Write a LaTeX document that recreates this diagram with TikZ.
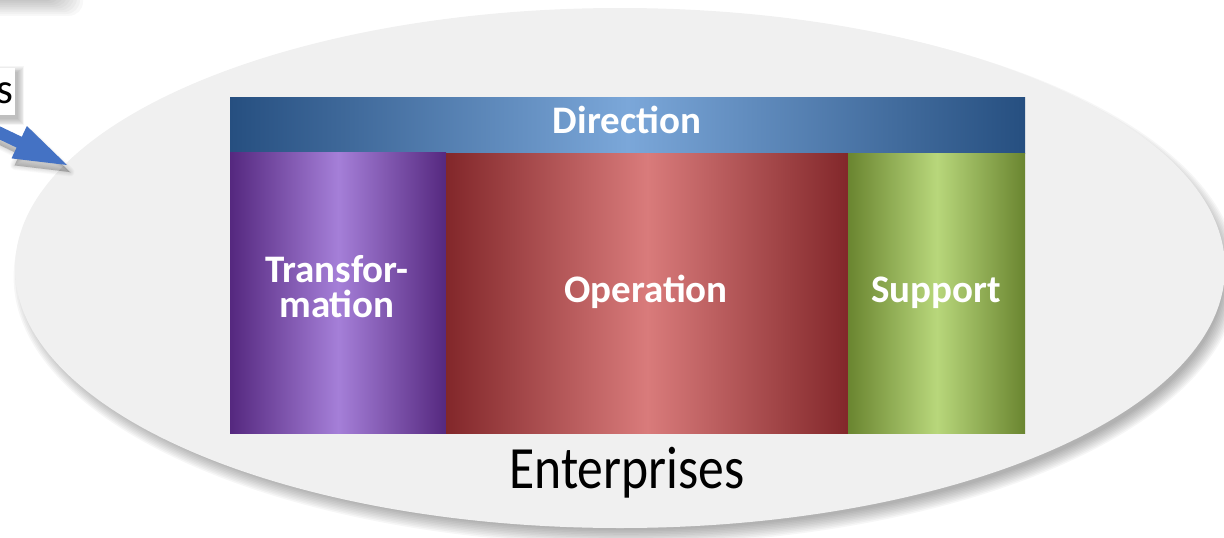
\documentclass[tikz,border=0pt]{standalone}
\usepackage{fontspec}
\setmainfont{Carlito}
\usetikzlibrary{shapes.geometric}
\definecolor{ellfill}{HTML}{F0F0F0}
\definecolor{arrowblue}{HTML}{4472C4}
\definecolor{dirEdge}{HTML}{264F80}
\definecolor{dirMid}{HTML}{7BA7D9}
\definecolor{trEdge}{HTML}{55287F}
\definecolor{trMid}{HTML}{A57FD8}
\definecolor{opEdge}{HTML}{82272A}
\definecolor{opMid}{HTML}{D97B7B}
\definecolor{suEdge}{HTML}{6A8530}
\definecolor{suMid}{HTML}{B8D77B}
\tikzset{
  panel/.style={anchor=north west, inner sep=0pt, draw=none},
  boxtext/.style={anchor=base, text=white, font=\bfseries\fontsize{39}{35}\selectfont, inner sep=0pt, align=center},
  shadowlayer/.style={fill=black, opacity=0.035},
}
\begin{document}
\begin{tikzpicture}[x=1pt,y=-1pt]
\useasboundingbox (0,0) rectangle (1224,538);
\clip (0,0) rectangle (1224,538);
% soft shadow of a shape above the picture (top-left)
\foreach \i in {0,...,11}
  \fill[fill=black, opacity=0.028, rounded corners=14] (-40,-40) rectangle ({50+3*\i},{-4+1.8*\i});
% ellipse shadow
\foreach \i in {0,...,9}
  \fill[shadowlayer] (626,277) ellipse ({598+1.6*\i} and {253+1.6*\i});
\node[ellipse, fill=ellfill, inner sep=0pt, minimum width=1210, minimum height=520] (ent) at (620,268) {};
% text box at left (cut off) with shadow
\foreach \i in {0,...,7}
  \fill[shadowlayer] (-30,{72-\i*0.8}) rectangle ({18+0.9*\i},{119+0.9*\i});
\node[panel, fill=white, minimum width=45, minimum height=47] (sbox) at (-30,68) {};
\node[anchor=base east, font=\fontsize{43}{43}\selectfont, inner sep=0pt] (stext) at (14,103) {s};
% arrow shadow
\foreach \i in {0,...,6}
  \fill[fill=black, opacity=0.035, line join=round, draw=black, draw opacity=0.02, line width={\i*1.5}]
    (-34.5,128.8) -- (19.6,154.6) -- (14.5,165.4) -- (70,172) -- (29.9,133) -- (24.8,143.8) -- (-29.3,118) -- cycle;
% arrow
\coordinate (tip) at (67,165);
\fill[arrowblue] (-37.5,121.8) -- (16.6,147.6) -- (11.5,158.4) -- (tip) -- (26.9,126) -- (21.8,136.8) -- (-32.3,111) -- cycle;
% panels
\node[panel, left color=dirEdge, right color=dirEdge, middle color=dirMid, minimum width=795, minimum height=56] (dir) at (230,97) {};
\node[panel, left color=trEdge, right color=trEdge, middle color=trMid, minimum width=216, minimum height=281] (tr) at (230,152) {};
\node[panel, left color=opEdge, right color=opEdge, middle color=opMid, minimum width=402, minimum height=280] (op) at (446,153) {};
\node[panel, left color=suEdge, right color=suEdge, middle color=suMid, minimum width=177, minimum height=280] (su) at (848,153) {};
% labels
\node[boxtext] (dirt) at (627,133) {Direction};
\node[boxtext] (trt1) at (337,282) {Transfor-};
\node[boxtext] (trt2) at (337,317) {mation};
\node[boxtext] (opt) at (646,302) {Operation};
\node[boxtext] (sut) at (936,302) {Support};
\node[anchor=base, inner sep=0pt, font=\fontsize{60}{60}\selectfont] (entt) at (627,488) {\scalebox{0.86}[1]{Enterprises}};
\end{tikzpicture}
\end{document}
